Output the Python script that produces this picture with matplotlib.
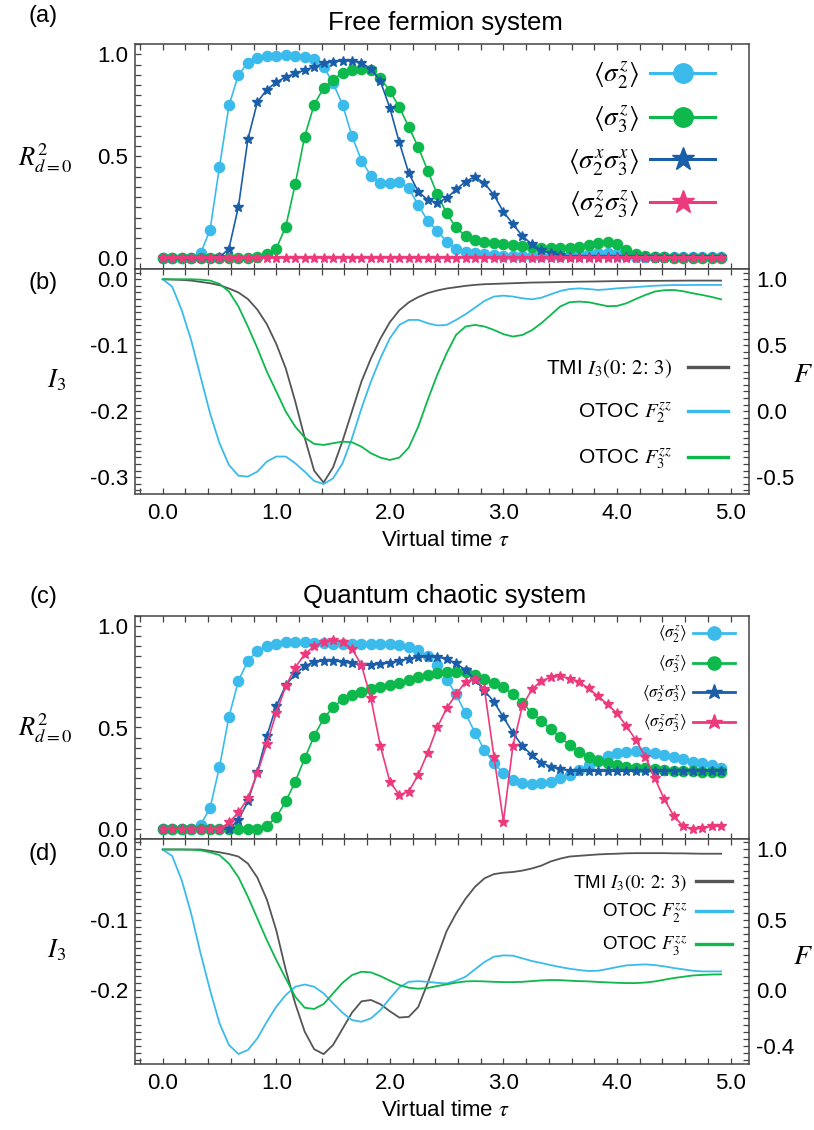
import numpy as np
import matplotlib
matplotlib.use("Agg")
import matplotlib.pyplot as plt
from matplotlib.ticker import MultipleLocator, FixedLocator, FormatStrFormatter
from matplotlib.lines import Line2D

plt.rcParams['font.family'] = ['Liberation Sans', 'DejaVu Sans']
plt.rcParams['mathtext.fontset'] = 'stix'
plt.rcParams['axes.unicode_minus'] = False

# ---------------- data ----------------
tau = np.arange(60) / 12.0   # sampling grid of virtual time

# (a) free fermion R^2
a_s2z = [0, 0, 0, 0, 0.025, 0.14, 0.45, 0.75, 0.90, 0.96, 0.985, 0.992, 0.995, 0.997, 0.995,
         0.99, 0.98, 0.94, 0.86, 0.754, 0.60, 0.48, 0.406, 0.372, 0.372, 0.377, 0.344, 0.262,
         0.185, 0.136, 0.082, 0.049, 0.033, 0.025, 0.02, 0.017, 0.014, 0.012, 0.011, 0.01,
         0.01, 0.011, 0.013, 0.016, 0.02, 0.024, 0.026, 0.025, 0.02, 0.013, 0.008, 0.006,
         0.005, 0.005, 0.005, 0.005, 0.005, 0.005, 0.005, 0.005]
a_s3z = [0, 0, 0, 0, 0, 0, 0, 0, 0, 0, 0.005, 0.02, 0.049, 0.156, 0.364, 0.598, 0.754, 0.836,
         0.877, 0.91, 0.926, 0.93, 0.924, 0.885, 0.82, 0.743, 0.644, 0.546, 0.431, 0.316,
         0.221, 0.152, 0.11, 0.09, 0.082, 0.074, 0.07, 0.065, 0.06, 0.056, 0.053, 0.051,
         0.051, 0.051, 0.056, 0.065, 0.077, 0.082, 0.069, 0.041, 0.021, 0.011, 0.008, 0.006,
         0.004, 0.004, 0.004, 0.004, 0.004, 0.004]
a_sxx = [0, 0, 0, 0, 0, 0, 0.005, 0.049, 0.254, 0.585, 0.766, 0.828, 0.864, 0.89, 0.907,
         0.923, 0.939, 0.956, 0.964, 0.97, 0.969, 0.959, 0.93, 0.869, 0.738, 0.569, 0.418,
         0.328, 0.287, 0.274, 0.295, 0.339, 0.377, 0.401, 0.369, 0.311, 0.229, 0.169, 0.11,
         0.07, 0.041, 0.025, 0.016, 0.008, 0.005, 0.005, 0.005, 0.005, 0.005, 0.005, 0.005,
         0.005, 0.005, 0.005, 0.005, 0.005, 0.005, 0.005, 0.005, 0.005]
a_szz = [0, 0, 0, 0, 0, 0, 0, 0, 0, 0, 0, 0, 0, 0, 0, 0, 0, 0, 0, 0,
         0, 0, 0, 0, 0, 0, 0, 0, 0, 0, 0, 0, 0, 0, 0, 0, 0, 0, 0, 0,
         0, 0, 0, 0, 0, 0, 0, 0, 0, 0, 0, 0, 0, 0, 0, 0, 0, 0, 0, 0]

# (b) free fermion TMI / OTOC
b_tmi = [0, -0.0005, -0.001, -0.002, -0.004, -0.006, -0.009, -0.014, -0.02, -0.03, -0.046,
         -0.068, -0.098, -0.135, -0.185, -0.24, -0.29, -0.308, -0.285, -0.245, -0.2, -0.155,
         -0.12, -0.09, -0.065, -0.047, -0.035, -0.027, -0.021, -0.017, -0.014, -0.012, -0.01,
         -0.0085, -0.0075, -0.007, -0.0065, -0.006, -0.0055, -0.005, -0.0048, -0.0045,
         -0.0042, -0.004, -0.0037, -0.0035, -0.0033, -0.003, -0.0028, -0.0027, -0.0026,
         -0.0025, -0.0024, -0.0023, -0.0022, -0.0021, -0.002, -0.002, -0.002, -0.002]
b_f2 = [1.0, 0.944, 0.767, 0.54, 0.262, -0.015, -0.242, -0.407, -0.488, -0.495, -0.457,
        -0.381, -0.343, -0.343, -0.394, -0.457, -0.528, -0.551, -0.508, -0.394, -0.205, 0.022,
        0.225, 0.401, 0.553, 0.654, 0.692, 0.692, 0.667, 0.65, 0.654, 0.692, 0.735, 0.785,
        0.836, 0.869, 0.876, 0.869, 0.856, 0.848, 0.86, 0.886, 0.911, 0.926, 0.931, 0.926,
        0.919, 0.924, 0.931, 0.936, 0.941, 0.946, 0.951, 0.954, 0.956, 0.956, 0.957, 0.957,
        0.957, 0.957]
b_f3 = [1.0, 1.0, 1.0, 1.0, 0.997, 0.99, 0.965, 0.907, 0.794, 0.642, 0.478, 0.301, 0.15,
        -0.002, -0.116, -0.199, -0.247, -0.255, -0.242, -0.23, -0.235, -0.268, -0.318, -0.351,
        -0.369, -0.351, -0.275, -0.116, 0.086, 0.275, 0.44, 0.579, 0.642, 0.654, 0.642, 0.616,
        0.584, 0.566, 0.578, 0.614, 0.667, 0.73, 0.794, 0.826, 0.831, 0.826, 0.811, 0.796,
        0.798, 0.818, 0.851, 0.881, 0.907, 0.917, 0.919, 0.909, 0.894, 0.881, 0.866, 0.848]

# (c) quantum chaotic R^2
c_s2z = [0, 0, 0, 0, 0.021, 0.103, 0.307, 0.553, 0.73, 0.828, 0.877, 0.9, 0.913, 0.92, 0.922,
         0.92, 0.917, 0.914, 0.913, 0.913, 0.913, 0.913, 0.913, 0.912, 0.911, 0.908, 0.896,
         0.88, 0.851, 0.807, 0.736, 0.663, 0.569, 0.474, 0.389, 0.324, 0.275, 0.242, 0.229,
         0.222, 0.226, 0.234, 0.25, 0.267, 0.291, 0.316, 0.34, 0.36, 0.373, 0.381, 0.386,
         0.381, 0.373, 0.365, 0.357, 0.344, 0.332, 0.324, 0.316, 0.30]
c_s3z = [0, 0, 0, 0, 0, 0, 0, 0, 0, 0, 0.003, 0.016, 0.059, 0.136, 0.234, 0.348, 0.458, 0.545,
         0.599, 0.638, 0.659, 0.676, 0.687, 0.697, 0.708, 0.718, 0.733, 0.746, 0.757, 0.766,
         0.772, 0.774, 0.774, 0.76, 0.741, 0.72, 0.697, 0.664, 0.622, 0.572, 0.533, 0.491,
         0.452, 0.414, 0.381, 0.356, 0.337, 0.324, 0.316, 0.307, 0.302, 0.299, 0.296, 0.291,
         0.288, 0.285, 0.284, 0.283, 0.283, 0.283]
c_sxx = [0, 0, 0, 0, 0, 0, 0, 0, 0.046, 0.136, 0.283, 0.458, 0.605, 0.708, 0.762, 0.802,
         0.823, 0.828, 0.828, 0.823, 0.815, 0.807, 0.807, 0.812, 0.818, 0.828, 0.838, 0.846,
         0.848, 0.848, 0.836, 0.816, 0.782, 0.735, 0.68, 0.627, 0.55, 0.474, 0.409, 0.365,
         0.327, 0.307, 0.295, 0.288, 0.285, 0.285, 0.285, 0.285, 0.285, 0.285, 0.285, 0.285,
         0.285, 0.285, 0.285, 0.285, 0.285, 0.285, 0.285, 0.287]
c_szz = [0, 0, 0, 0, 0, 0, 0, 0.033, 0.082, 0.152, 0.275, 0.419, 0.572, 0.703, 0.795, 0.861,
         0.9, 0.921, 0.929, 0.921, 0.888, 0.807, 0.643, 0.409, 0.234, 0.168, 0.185, 0.267,
         0.376, 0.5, 0.594, 0.664, 0.725, 0.741, 0.687, 0.357, 0.037, 0.409, 0.605, 0.687,
         0.73, 0.746, 0.753, 0.741, 0.725, 0.692, 0.654, 0.615, 0.569, 0.507, 0.438, 0.357,
         0.25, 0.147, 0.065, 0.013, 0.0, 0.005, 0.013, 0.016]

# (d) quantum chaotic TMI / OTOC
d_tmi = [0, 0, 0, 0, 0, -0.002, -0.004, -0.0065, -0.01, -0.02, -0.04, -0.071, -0.115, -0.171,
         -0.219, -0.259, -0.284, -0.291, -0.278, -0.255, -0.232, -0.216, -0.214, -0.22, -0.23,
         -0.239, -0.238, -0.224, -0.19, -0.153, -0.116, -0.091, -0.07, -0.053, -0.041, -0.035,
         -0.033, -0.032, -0.03, -0.027, -0.023, -0.017, -0.013, -0.01, -0.009, -0.008, -0.007,
         -0.0064, -0.006, -0.0054, -0.0052, -0.0052, -0.0052, -0.0052, -0.0055, -0.0055,
         -0.0058, -0.006, -0.006, -0.006]
d_f2 = [1.0, 0.954, 0.783, 0.546, 0.262, 0.001, -0.236, -0.39, -0.454, -0.426, -0.343, -0.225,
        -0.118, -0.035, 0.024, 0.04, 0.024, -0.023, -0.094, -0.161, -0.213, -0.225, -0.201,
        -0.142, -0.059, 0.019, 0.059, 0.064, 0.059, 0.052, 0.047, 0.067, 0.095, 0.148, 0.2,
        0.238, 0.247, 0.245, 0.226, 0.207, 0.193, 0.178, 0.164, 0.152, 0.143, 0.136, 0.138,
        0.15, 0.164, 0.176, 0.18, 0.183, 0.178, 0.169, 0.157, 0.148, 0.138, 0.133, 0.133,
        0.133]
d_f3 = [1.0, 1.0, 1.0, 0.998, 0.994, 0.98, 0.96, 0.9, 0.803, 0.664, 0.51, 0.356, 0.214, 0.083,
        -0.047, -0.125, -0.134, -0.099, -0.023, 0.052, 0.107, 0.131, 0.126, 0.1, 0.067, 0.036,
        0.017, 0.01, 0.015, 0.029, 0.041, 0.053, 0.062, 0.064, 0.062, 0.059, 0.057, 0.057,
        0.059, 0.064, 0.069, 0.072, 0.071, 0.067, 0.064, 0.062, 0.058, 0.055, 0.052, 0.05,
        0.05, 0.054, 0.062, 0.074, 0.086, 0.095, 0.104, 0.108, 0.111, 0.112]

labels_R = [r"$\langle\sigma_2^z\rangle$", r"$\langle\sigma_3^z\rangle$",
            r"$\langle\sigma_2^x\sigma_3^x\rangle$", r"$\langle\sigma_2^z\sigma_3^z\rangle$"]
labels_I = [r"TMI $I_3(0$: $2$: $3)$", r"OTOC $F_2^{zz}$", r"OTOC $F_3^{zz}$"]
xticks = [0, 1, 2, 3, 4, 5]
xticklabels = ["0.0", "1.0", "2.0", "3.0", "4.0", "5.0"]

# ---------------- style ----------------
C_LB = "#3bbbec"
C_GR = "#0db84c"
C_DB = "#1a5ea9"
C_PK = "#ec3a7c"
C_BK = "#555555"
SPINE = "#444444"

W, H = 814, 1130
fig = plt.figure(figsize=(W / 100, H / 100), dpi=100)

def box(top, bottom, left=135, right=749.3):
    return [left / W, 1 - bottom / H, (right - left) / W, (bottom - top) / H]

ax_a = fig.add_axes(box(44.3, 268.7))
ax_b = fig.add_axes(box(268.7, 494.3))
ax_c = fig.add_axes(box(615.7, 839.3))
ax_d = fig.add_axes(box(839.3, 1064.3))

XLIM = (-0.244, 5.165)
TICKFS = 16

def style_x(ax, labels):
    ax.set_xlim(*XLIM)
    ax.xaxis.set_major_locator(FixedLocator(xticks))
    ax.xaxis.set_minor_locator(MultipleLocator(0.2))
    ax.tick_params(axis='x', which='both', direction='in', top=True, bottom=True,
                   length=4, width=0.9, color=SPINE, labelsize=TICKFS, pad=6)
    if labels:
        ax.set_xticklabels(xticklabels)
    else:
        ax.set_xticklabels([])
    for s in ax.spines.values():
        s.set_color(SPINE)
        s.set_linewidth(1.1)

def style_R(ax):
    ax.set_ylim(-0.05, 1.05)
    ax.yaxis.set_major_locator(FixedLocator([0.0, 0.5, 1.0]))
    ax.yaxis.set_minor_locator(MultipleLocator(0.05))
    ax.yaxis.set_major_formatter(FormatStrFormatter("%.1f"))
    ax.tick_params(axis='y', which='both', direction='in', left=True, right=False,
                   length=4, width=0.9, color=SPINE, labelsize=TICKFS, pad=5)

def plot_R(ax, s2z, s3z, sxx, szz, ms):
    kw = dict(lw=1.2)
    ax.plot(tau, s2z, '-o', color=C_LB, ms=ms, mec=C_LB, zorder=3, **kw)
    ax.plot(tau, s3z, '-o', color=C_GR, ms=ms, mec=C_GR, zorder=3, **kw)
    ax.plot(tau, sxx, '-*', color=C_DB, ms=ms, mec=C_DB, zorder=4, **kw)
    ax.plot(tau, szz, '-*', color=C_PK, ms=ms, mec=C_PK, zorder=4, **kw)

def legend_R(ax, ms_c, ms_s, fs, anchor, spacing, hl, lw):
    hs = [Line2D([], [], color=C_LB, marker='o', ms=ms_c, lw=lw),
          Line2D([], [], color=C_GR, marker='o', ms=ms_c, lw=lw),
          Line2D([], [], color=C_DB, marker='*', ms=ms_s, lw=lw),
          Line2D([], [], color=C_PK, marker='*', ms=ms_s, lw=lw)]
    ax.legend(hs, labels_R, loc='upper right', bbox_to_anchor=anchor, frameon=False,
              markerfirst=False, fontsize=fs, labelspacing=spacing, handlelength=hl,
              handletextpad=0.4, borderpad=0, borderaxespad=0)

def legend_I(ax, fs, anchor, spacing, hl, pad):
    hs = [Line2D([], [], color=C_BK, lw=2.4), Line2D([], [], color=C_LB, lw=2.4),
          Line2D([], [], color=C_GR, lw=2.4)]
    ax.legend(hs, labels_I, loc='upper right', bbox_to_anchor=anchor, frameon=False,
              markerfirst=False, fontsize=fs, labelspacing=spacing, handlelength=hl,
              handletextpad=pad, borderpad=0, borderaxespad=0)

def plot_I(ax, tmi, f2, f3, ylim, iticks, fticks):
    ax.set_ylim(*ylim)
    ax.yaxis.set_major_locator(FixedLocator(iticks))
    ax.yaxis.set_minor_locator(MultipleLocator(0.01))
    ax.yaxis.set_major_formatter(FormatStrFormatter("%.1f"))
    ax.tick_params(axis='y', which='both', direction='in', left=True, right=False,
                   length=4, width=0.9, color=SPINE, labelsize=TICKFS, pad=5)
    ax.plot(tau, tmi, color=C_BK, lw=1.3, zorder=3)
    axr = ax.twinx()
    axr.set_ylim(1 + 5 * ylim[0], 1 + 5 * ylim[1])
    axr.yaxis.set_major_locator(FixedLocator(fticks))
    axr.yaxis.set_minor_locator(MultipleLocator(0.05))
    axr.yaxis.set_major_formatter(FormatStrFormatter("%.1f"))
    axr.tick_params(axis='y', which='both', direction='in', length=4, width=0.9,
                    color=SPINE, labelsize=TICKFS, pad=5)
    axr.plot(tau, f2, color=C_LB, lw=1.3, zorder=3)
    axr.plot(tau, f3, color=C_GR, lw=1.3, zorder=3)
    for s in axr.spines.values():
        s.set_visible(False)
    return axr

# (a)
plot_R(ax_a, a_s2z, a_s3z, a_sxx, a_szz, 7.3)
style_R(ax_a)
style_x(ax_a, False)
legend_R(ax_a, 14, 17, 19.5, ((715 - 135) / 614.3, (268.7 - 60) / 224.4), 0.42, 2.4, 2.2)

# (b)
axr_b = plot_I(ax_b, b_tmi, b_f2, b_f3, (-0.3258, 0.016), [0.0, -0.1, -0.2, -0.3],
               [1.0, 0.5, 0.0, -0.5])
style_x(ax_b, True)
legend_I(axr_b, 15, ((728 - 135) / 614.3, (494.3 - 357) / 225.6), 1.0, 1.9, 0.8)

# (c)
plot_R(ax_c, c_s2z, c_s3z, c_sxx, c_szz, 7.3)
style_R(ax_c)
style_x(ax_c, False)
legend_R(ax_c, 9.5, 11.5, 12, ((735 - 135) / 614.3, (839.3 - 624) / 223.6), 0.5, 2.5, 2.0)

# (d)
axr_d = plot_I(ax_d, d_tmi, d_f2, d_f3, (-0.3055, 0.0145), [0.0, -0.1, -0.2],
               [1.0, 0.5, 0.0, -0.4])
style_x(ax_d, True)
legend_I(axr_d, 13.5, ((732 - 135) / 614.3, (1064.3 - 872) / 225), 0.5, 1.9, 0.5)

# ---------------- texts ----------------
def ftext(x, y, s, va='center', **kw):
    fig.text(x / W, 1 - y / H, s, ha='center', va=va, **kw)

ftext(445, 30, "Free fermion system", va='baseline', fontsize=18.5)
ftext(445, 603, "Quantum chaotic system", va='baseline', fontsize=18.5)
for (x, y, s) in [(43, 16, "(a)"), (43, 283, "(b)"), (43, 597, "(c)"), (43, 854, "(d)")]:
    ftext(x, y, s, fontsize=17)
ftext(45, 158, r"$R^2_{d=0}$", fontsize=19)
ftext(45, 728, r"$R^2_{d=0}$", fontsize=19)
ftext(57, 380, r"$I_3$", fontsize=19)
ftext(57, 950, r"$I_3$", fontsize=19)
ftext(803, 375, r"$F$", fontsize=20)
ftext(803, 957, r"$F$", fontsize=20)
ftext(445, 540, r"Virtual time $\tau$", fontsize=16)
ftext(445, 1110, r"Virtual time $\tau$", fontsize=16)

fig.savefig("out.png", dpi=100)
